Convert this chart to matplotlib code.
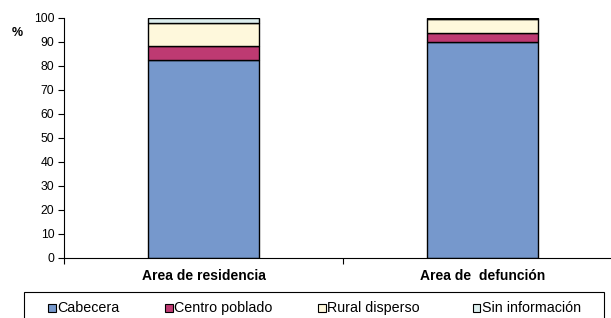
import matplotlib
matplotlib.use("Agg")
import matplotlib.pyplot as plt
from matplotlib.patches import Rectangle
import numpy as np

plt.rcParams['font.family'] = ['Liberation Sans', 'DejaVu Sans']

categories = ["Area de residencia", "Area de  defunción"]
series_names = ["Cabecera", "Centro poblado", "Rural disperso", "Sin información"]
cabecera = [82.5, 89.9]
centro_poblado = [6.0, 3.9]
rural_disperso = [9.4, 5.6]
sin_informacion = [2.1, 0.6]
series_values = [cabecera, centro_poblado, rural_disperso, sin_informacion]
colors = ["#7698CC", "#BE3A72", "#FEF8DC", "#DCEEEE"]
y_ticks = [0, 10, 20, 30, 40, 50, 60, 70, 80, 90, 100]

W, H = 611, 318
fig = plt.figure(figsize=(W / 100, H / 100), dpi=100)
ax = fig.add_axes([64 / W, (H - 258) / H, 558 / W, 240 / H])

x = np.arange(len(categories))
bottom = np.zeros(len(categories))
for name, vals, c in zip(series_names, series_values, colors):
    ax.bar(x, vals, width=0.4, bottom=bottom, color=c, edgecolor="black",
           linewidth=1.0, label=name)
    bottom += np.array(vals)

ax.set_xlim(-0.5, 1.5)
ax.set_ylim(0, 100)
ax.set_yticks(y_ticks)
ax.tick_params(axis='y', labelsize=8.7, length=4, width=0.8, pad=3)
ax.set_xticks(x)
ax.set_xticklabels(categories, fontsize=10, fontweight='bold')
ax.tick_params(axis='x', which='major', length=0, pad=8)
ax.set_xticks([-0.5, 0.5, 1.5], minor=True)
ax.tick_params(axis='x', which='minor', length=4, width=0.8)
for s in ['top', 'right']:
    ax.spines[s].set_visible(False)
for s in ['left', 'bottom']:
    ax.spines[s].set_linewidth(0.8)

fig.text(12 / W, 1 - 33 / H, "%", fontsize=9, fontweight='bold', va='center', ha='left')

# Legend frame
fig.patches.append(Rectangle((24 / W, -0.1), 580 / W, 0.1 + (H - 292) / H,
                             transform=fig.transFigure, fill=False,
                             edgecolor="black", linewidth=0.8))
marker_x = [48, 165, 318, 473]
ly = 308
ms = 7.5
for mx, name, c in zip(marker_x, series_names, colors):
    fig.patches.append(Rectangle((mx / W, (H - ly - ms / 2) / H), ms / W, ms / H,
                                 transform=fig.transFigure, facecolor=c,
                                 edgecolor="black", linewidth=0.8))
    fig.text((mx + ms + 1.5) / W, (H - ly) / H, name, fontsize=10.3, va='center', ha='left')

fig.savefig("out.png", dpi=100)
